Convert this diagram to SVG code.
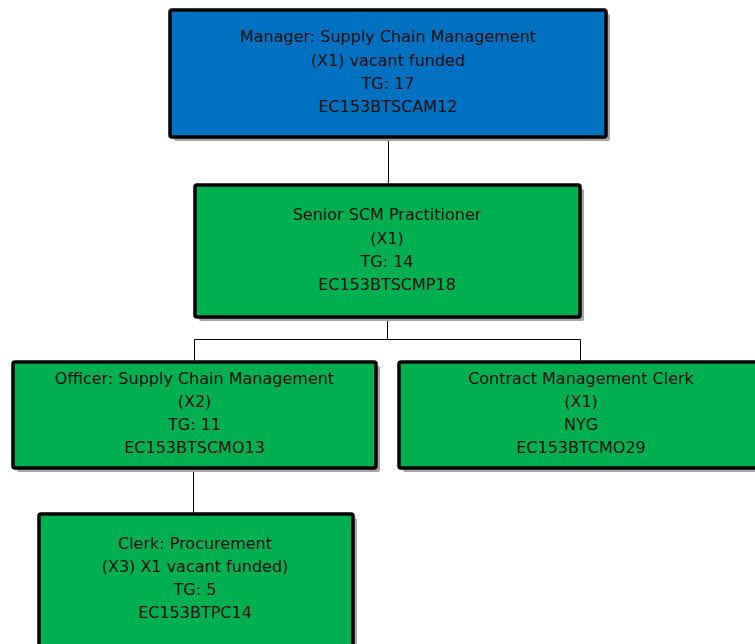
<svg xmlns="http://www.w3.org/2000/svg" width="755" height="644" viewBox="0 0 755 644">
  <style>
    .shadow { fill: #a6a6a6; }
    .box { stroke: #000; stroke-width: 3.5; }
    .blue { fill: #0070C0; }
    .green { fill: #00B050; }
    .label { font-family: "DejaVu Sans", Verdana, sans-serif; font-size: 16px; fill: #111; text-anchor: middle; }
    .wire { fill: none; stroke: #000; stroke-width: 1; }
  </style>
  <rect width="755" height="644" fill="#fff"/>

  <!-- reporting lines -->
  <g id="connectors">
    <path class="wire" d="M388.5 138 V184"/>
    <path class="wire" d="M387.5 317 V339.5 H194.5 V362"/>
    <path class="wire" d="M387.5 339.5 H580.5 V362"/>
    <path class="wire" d="M193.5 468 V514"/>
  </g>

  <g id="manager-scm">
    <rect class="shadow" x="174" y="14" width="436" height="127" rx="2"/>
    <rect class="box blue" x="170" y="10" width="436" height="127" rx="2"/>
    <text class="label" x="388" y="42">Manager: Supply Chain Management</text>
    <text class="label" x="388" y="66">(X1) vacant funded</text>
    <text class="label" x="388" y="89">TG: 17</text>
    <text class="label" x="388" y="112">EC153BTSCAM12</text>
  </g>

  <g id="senior-scm-practitioner">
    <rect class="shadow" x="199" y="189" width="385" height="132" rx="2"/>
    <rect class="box green" x="195" y="185" width="385" height="132" rx="2"/>
    <text class="label" x="387" y="220">Senior SCM Practitioner</text>
    <text class="label" x="387" y="244">(X1)</text>
    <text class="label" x="387" y="267">TG: 14</text>
    <text class="label" x="387" y="290">EC153BTSCMP18</text>
  </g>

  <g id="officer-scm">
    <rect class="shadow" x="17" y="366" width="363" height="106" rx="2"/>
    <rect class="box green" x="13" y="362" width="363" height="106" rx="2"/>
    <text class="label" x="194.5" y="384">Officer: Supply Chain Management</text>
    <text class="label" x="194.5" y="407">(X2)</text>
    <text class="label" x="194.5" y="430">TG: 11</text>
    <text class="label" x="194.5" y="453">EC153BTSCMO13</text>
  </g>

  <g id="contract-management-clerk">
    <rect class="shadow" x="403" y="366" width="364" height="106" rx="2"/>
    <rect class="box green" x="399" y="362" width="364" height="106" rx="2"/>
    <text class="label" x="581" y="384">Contract Management Clerk</text>
    <text class="label" x="581" y="407">(X1)</text>
    <text class="label" x="581" y="430">NYG</text>
    <text class="label" x="581" y="453">EC153BTCMO29</text>
  </g>

  <g id="clerk-procurement">
    <rect class="shadow" x="43" y="518" width="314" height="140" rx="2"/>
    <rect class="box green" x="39" y="514" width="314" height="140" rx="2"/>
    <text class="label" x="195" y="549">Clerk: Procurement</text>
    <text class="label" x="195" y="572">(X3) X1 vacant funded)</text>
    <text class="label" x="195" y="595">TG: 5</text>
    <text class="label" x="195" y="618">EC153BTPC14</text>
  </g>
</svg>
